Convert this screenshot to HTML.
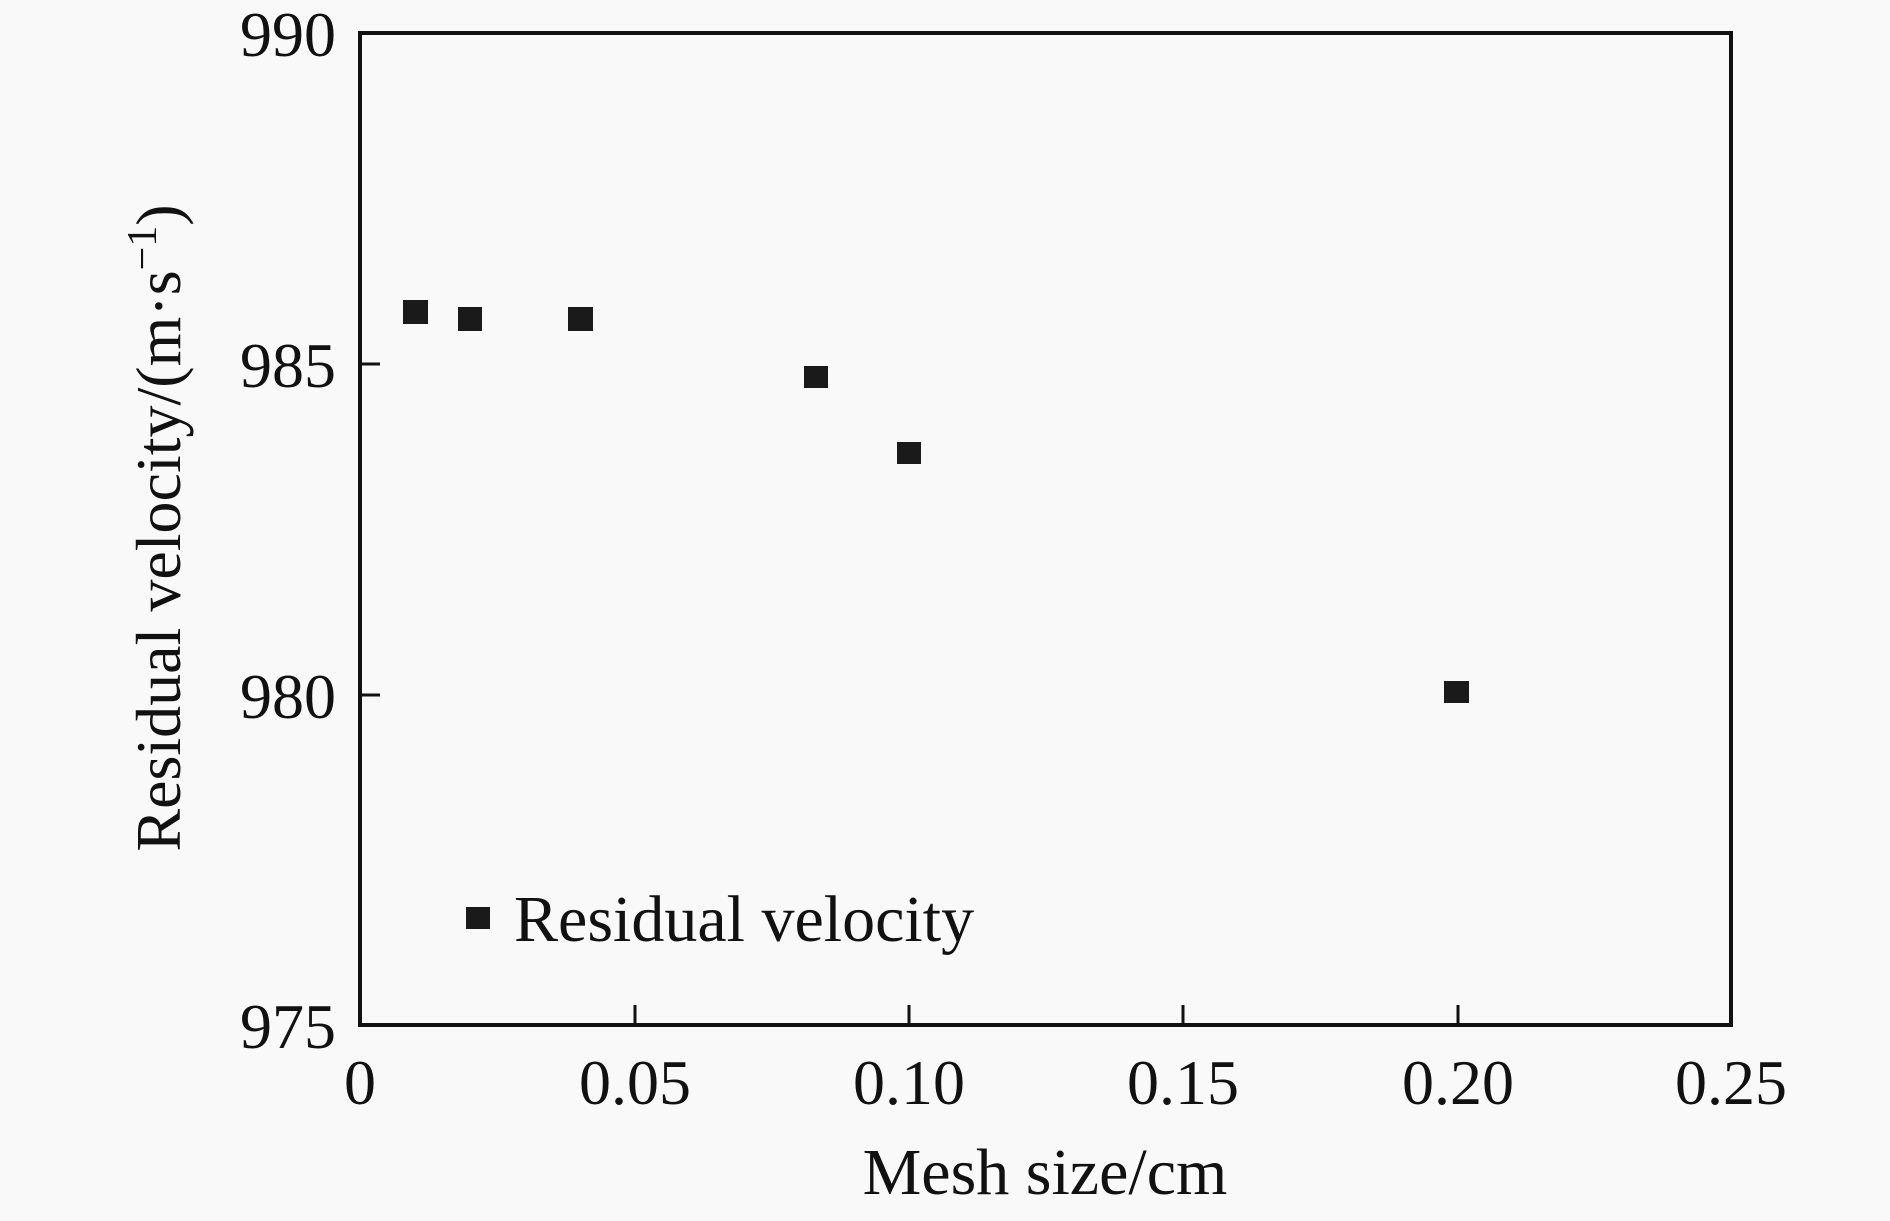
<!DOCTYPE html>
<html><head><meta charset="utf-8"><style>
html,body{margin:0;padding:0;background:#f9f9f9;}
svg text{font-family:"Liberation Serif",serif;fill:#111;}
</style></head><body>
<svg width="1890" height="1216" viewBox="0 0 1890 1216" xmlns="http://www.w3.org/2000/svg">
<rect width="1890" height="1216" fill="#f9f9f9"/>
<rect x="360" y="33" width="1371" height="992" fill="none" stroke="#111" stroke-width="4"/>
<g stroke="#111" stroke-width="3">
<line x1="635" y1="1025" x2="635" y2="1005"/>
<line x1="909" y1="1025" x2="909" y2="1005"/>
<line x1="1183" y1="1025" x2="1183" y2="1005"/>
<line x1="1458" y1="1025" x2="1458" y2="1005"/>
<line x1="360" y1="364" x2="380" y2="364"/>
<line x1="360" y1="695" x2="380" y2="695"/>
</g>
<g font-size="64" text-anchor="end">
<text x="336" y="56">990</text>
<text x="336" y="387">985</text>
<text x="336" y="718">980</text>
<text x="336" y="1048">975</text>
</g>
<g font-size="64" text-anchor="middle">
<text x="360" y="1104">0</text>
<text x="635" y="1104">0.05</text>
<text x="909" y="1104">0.10</text>
<text x="1183" y="1104">0.15</text>
<text x="1458" y="1104">0.20</text>
<text x="1731" y="1104">0.25</text>
</g>
<text x="1045" y="1194" font-size="66" text-anchor="middle">Mesh size/cm</text>
<text transform="translate(180,528) rotate(-90)" font-size="64" text-anchor="middle">Residual velocity/(m·s<tspan dy="-24" font-size="42">−1</tspan><tspan dy="24">)</tspan></text>
<g fill="#1a1a1a">
<rect x="403" y="300" width="25" height="24"/>
<rect x="458" y="307" width="24" height="24"/>
<rect x="568" y="307" width="25" height="24"/>
<rect x="804" y="366" width="24" height="22"/>
<rect x="897" y="442" width="24" height="22"/>
<rect x="1444" y="681" width="25" height="22"/>
<rect x="466" y="907" width="24" height="22"/>
</g>
<text x="514" y="941" font-size="66">Residual velocity</text>
</svg>
</body></html>
